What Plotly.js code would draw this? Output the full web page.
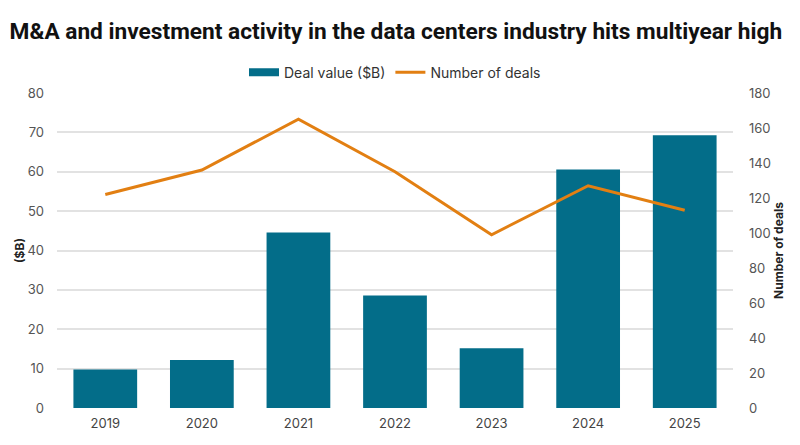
<!DOCTYPE html>
<html>
<head>
<meta charset="utf-8">
<script src="https://cdn.plot.ly/plotly-3.0.1.min.js"></script>
<style>html,body{margin:0;padding:0;background:#fff;}#chart{width:800px;height:445px;}</style>
</head>
<body>
<div id="chart"></div>
<script>
const years = ['2019','2020','2021','2022','2023','2024','2025'];
const dealValue = [9.8, 12.2, 44.6, 28.6, 15.2, 60.6, 69.3];
const numDeals = [122, 136, 165, 135, 99, 127, 113];

const barColor = '#036d89';
const lineColor = '#e27f12';
const fontFam = 'Inter, Roboto, "Noto Sans", sans-serif';

const traces = [
  {type:'bar', x: years, y: dealValue, name:'Deal value ($B)', marker:{color:barColor}, yaxis:'y', showlegend:false},
  {type:'scatter', mode:'lines', x:[null], y:[null], name:'Deal value ($B)', line:{color:barColor, width:8}, yaxis:'y', hoverinfo:'skip'},
  {type:'scatter', mode:'lines', x: years, y: numDeals, name:'Number of deals', line:{color:lineColor, width:3}, yaxis:'y2'}
];

const layout = {
  width:800, height:445,
  margin:{l:57, r:67, t:93, b:37},
  paper_bgcolor:'#ffffff', plot_bgcolor:'#ffffff',
  font:{family:fontFam, size:13, color:'#444'},
  title:{text:'M&A and investment activity in the data centers industry hits multiyear high',
    x:0.012, xanchor:'left', y:0.93, yanchor:'middle',
    font:{family:'Roboto, "Noto Sans", sans-serif', size:22.7, color:'#111', weight:'bold'}},
  bargap:0.34,
  showlegend:true,
  legend:{orientation:'h', x:0.5, xanchor:'center', y:1.065, yanchor:'middle', font:{size:14, color:'#333'}, itemwidth:30, traceorder:'normal'},
  xaxis:{type:'category', tickfont:{size:13, color:'#444'}, showgrid:false, zeroline:false, showline:false, ticks:'', ticklabelstandoff:6},
  yaxis:{range:[0,80], dtick:10, tick0:0, showgrid:true, gridcolor:'#e2e2e2', gridwidth:1.5, zeroline:false,
    tickfont:{size:13, color:'#555'}, ticks:'', ticklabelstandoff:12,
    title:{text:'($B)', font:{size:12, color:'#222', weight:'bold'}, standoff:0}},
  yaxis2:{range:[0,180], dtick:20, tick0:0, overlaying:'y', side:'right', showgrid:false, zeroline:false,
    tickfont:{size:13, color:'#555'}, ticks:'', ticklabelstandoff:15,
    title:{text:'Number of deals', font:{size:12, color:'#222', weight:'bold'}, standoff:0}}
};

Plotly.newPlot('chart', traces, layout, {displayModeBar:false, responsive:false});
</script>
</body>
</html>
